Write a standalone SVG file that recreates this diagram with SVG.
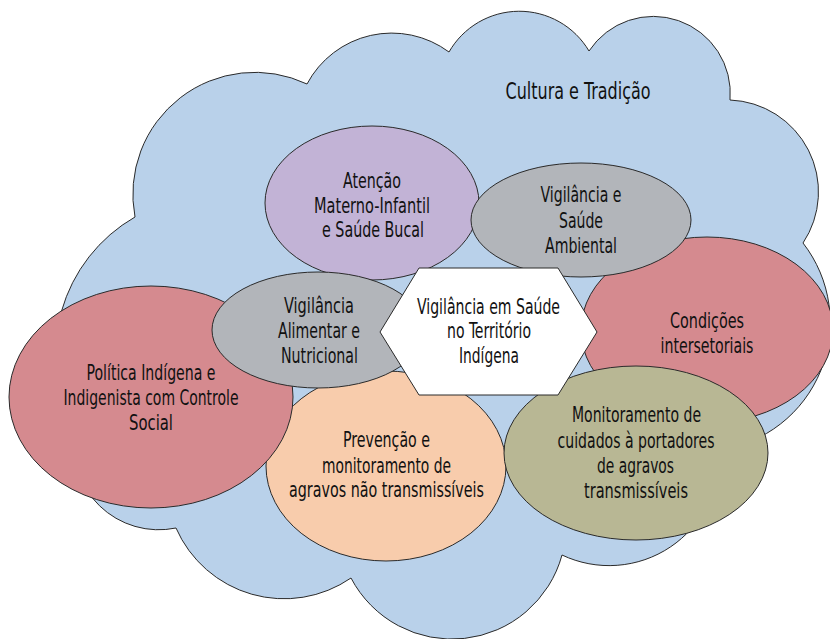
<svg xmlns="http://www.w3.org/2000/svg" width="830" height="639" viewBox="0 0 830 639">
<style>
.sh{stroke:#2a2a2a;stroke-width:1}
text{font-family:"Liberation Sans Narrow","DejaVu Sans Condensed","Liberation Sans",sans-serif;font-size:22px;fill:#111;text-anchor:middle}
.big{font-size:23px}
</style>
<rect width="830" height="639" fill="#ffffff"/>
<g id="cloud">
<path class="sh" fill="#b9d1ea" d="M135,217 A122,122 0 0 1 307,84 A96,96 0 0 1 449,52 A81,81 0 0 1 589,51 A77,77 0 0 1 730,100 A92,92 0 0 1 803,243 A129,129 0 0 1 719,450 A110,110 0 0 1 562,555 A114,114 0 0 1 351,578 A118,118 0 0 1 176,528 A85,85 0 0 1 75,430 A158,158 0 0 1 135,217 Z"/>
<text class="big" x="578" y="99" textLength="145" lengthAdjust="spacingAndGlyphs">Cultura e Tradição</text>
</g>
<g id="condicoes">
<ellipse class="sh" fill="#d58a8f" cx="707" cy="330" rx="126" ry="93"/>
<text x="707" y="328" textLength="74" lengthAdjust="spacingAndGlyphs">Condições</text>
<text x="707" y="353" textLength="93" lengthAdjust="spacingAndGlyphs">intersetoriais</text>
</g>
<g id="atencao">
<ellipse class="sh" fill="#c2b3d6" cx="372" cy="203" rx="107" ry="77"/>
<text x="372" y="188" textLength="58" lengthAdjust="spacingAndGlyphs">Atenção</text>
<text x="372" y="213" textLength="116" lengthAdjust="spacingAndGlyphs">Materno-Infantil</text>
<text x="373" y="237" textLength="102" lengthAdjust="spacingAndGlyphs">e Saúde Bucal</text>
</g>
<g id="ambiental">
<ellipse class="sh" fill="#b2b5ba" cx="581" cy="220" rx="110" ry="57"/>
<text x="581" y="202" textLength="81" lengthAdjust="spacingAndGlyphs">Vigilância e</text>
<text x="581" y="228" textLength="44" lengthAdjust="spacingAndGlyphs">Saúde</text>
<text x="581" y="253" textLength="72" lengthAdjust="spacingAndGlyphs">Ambiental</text>
</g>
<g id="prevencao">
<ellipse class="sh" fill="#f8ccac" cx="386" cy="466" rx="120" ry="95"/>
<text x="386.5" y="447" textLength="87" lengthAdjust="spacingAndGlyphs">Prevenção e</text>
<text x="386.5" y="473" textLength="129" lengthAdjust="spacingAndGlyphs">monitoramento de</text>
<text x="386.5" y="497" textLength="195" lengthAdjust="spacingAndGlyphs">agravos não transmissíveis</text>
</g>
<g id="politica">
<ellipse class="sh" fill="#d58a8f" cx="151" cy="397" rx="142" ry="111"/>
<text x="151" y="380" textLength="129" lengthAdjust="spacingAndGlyphs">Política Indígena e</text>
<text x="151" y="405" textLength="175" lengthAdjust="spacingAndGlyphs">Indigenista com Controle</text>
<text x="151" y="430" textLength="44" lengthAdjust="spacingAndGlyphs">Social</text>
</g>
<g id="alimentar">
<ellipse class="sh" fill="#b2b5ba" cx="318" cy="330" rx="106" ry="58"/>
<text x="319" y="313" textLength="70" lengthAdjust="spacingAndGlyphs">Vigilância</text>
<text x="319" y="338" textLength="82" lengthAdjust="spacingAndGlyphs">Alimentar e</text>
<text x="319.5" y="363" textLength="77" lengthAdjust="spacingAndGlyphs">Nutricional</text>
</g>
<g id="monitoramento">
<ellipse class="sh" fill="#b8b794" cx="636" cy="453" rx="132" ry="87"/>
<text x="636.5" y="422" textLength="129" lengthAdjust="spacingAndGlyphs">Monitoramento de</text>
<text x="636" y="448" textLength="157" lengthAdjust="spacingAndGlyphs">cuidados à portadores</text>
<text x="635.5" y="473" textLength="77" lengthAdjust="spacingAndGlyphs">de agravos</text>
<text x="636" y="498" textLength="104" lengthAdjust="spacingAndGlyphs">transmissíveis</text>
</g>
<g id="vigilancia-territorio">
<polygon class="sh" fill="#ffffff" points="419,268 558,268 597,332 558,395 419,395 380,332"/>
<text x="488.5" y="314" textLength="143" lengthAdjust="spacingAndGlyphs">Vigilância em Saúde</text>
<text x="489" y="338" textLength="84" lengthAdjust="spacingAndGlyphs">no Território</text>
<text x="489" y="363" textLength="60" lengthAdjust="spacingAndGlyphs">Indígena</text>
</g>
<g id="connectors"></g>
</svg>
